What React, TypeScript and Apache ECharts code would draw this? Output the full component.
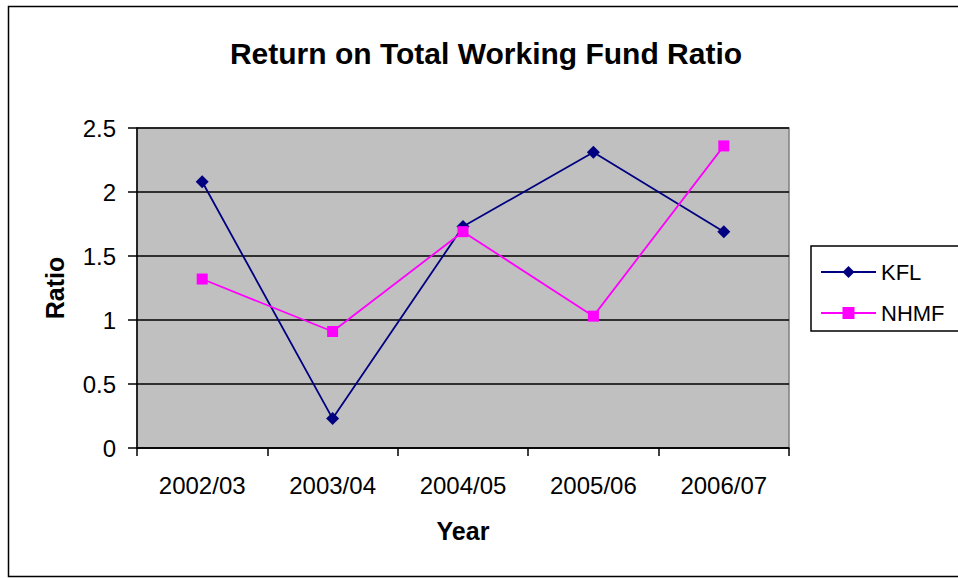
import React, { useEffect, useRef } from "react";
import * as echarts from "echarts";

const years = ["2002/03", "2003/04", "2004/05", "2005/06", "2006/07"];
const kflValues = [2.08, 0.23, 1.73, 2.31, 1.69];
const nhmfValues = [1.32, 0.91, 1.69, 1.03, 2.36];
const yTicks = { min: 0, max: 2.5, interval: 0.5 };

const FONT = "'Liberation Sans', Arial, sans-serif";

export default function App() {
  const ref = useRef<HTMLDivElement>(null);
  useEffect(() => {
    if (!ref.current) return;
    const chart = echarts.init(ref.current, null, { renderer: "svg" });
    chart.setOption({
      animation: false,
      backgroundColor: "#ffffff",
      textStyle: { fontFamily: FONT },
      title: {
        text: "Return on Total Working Fund Ratio",
        left: 481,
        textAlign: "center",
        top: 33,
        textStyle: { fontFamily: FONT, fontSize: 30, fontWeight: "bold", color: "#000" },
      },
      graphic: [
        {
          type: "rect",
          shape: { x: 8.5, y: 6.5, width: 965, height: 570 },
          style: { fill: "none", stroke: "#000", lineWidth: 1.5 },
          z: 100,
          silent: true,
        },
      ],
      legend: {
        orient: "vertical",
        left: 811,
        top: 246,
        padding: [14, 60, 6, 9],
        itemWidth: 55,
        itemHeight: 15,
        itemGap: 17,
        borderColor: "#000",
        borderWidth: 1.5,
        backgroundColor: "#fff",
        textStyle: { fontFamily: FONT, fontSize: 22, color: "#000", lineHeight: 24 },
        data: ["KFL", "NHMF"],
      },
      grid: { left: 137, top: 128, right: 169, bottom: 130, show: true, backgroundColor: "#C0C0C0", borderColor: "#808080", borderWidth: 1.5 },
      xAxis: {
        type: "category",
        data: years,
        boundaryGap: true,
        name: "Year",
        nameLocation: "middle",
        nameGap: 70,
        nameTextStyle: { fontFamily: FONT, fontSize: 25, fontWeight: "bold", color: "#000" },
        axisLine: { lineStyle: { color: "#000", width: 1.5 } },
        axisTick: { show: true, length: 8, lineStyle: { color: "#000", width: 1.5 } },
        axisLabel: { fontFamily: FONT, fontSize: 24, color: "#000", margin: 25 },
      },
      yAxis: {
        type: "value",
        min: yTicks.min,
        max: yTicks.max,
        interval: yTicks.interval,
        name: "Ratio",
        nameLocation: "middle",
        nameRotate: 90,
        nameGap: 70,
        nameTextStyle: { fontFamily: FONT, fontSize: 25, fontWeight: "bold", color: "#000" },
        axisLine: { show: true, lineStyle: { color: "#000", width: 1.5 } },
        axisTick: { show: true, length: 9, lineStyle: { color: "#000", width: 1.5 } },
        axisLabel: { fontFamily: FONT, fontSize: 24, color: "#000", margin: 21 },
        splitLine: { show: true, lineStyle: { color: "#000", width: 1.5 } },
      },
      series: [
        {
          name: "KFL",
          type: "line",
          data: kflValues,
          symbol: "diamond",
          symbolSize: 13,
          itemStyle: { color: "#000080" },
          lineStyle: { color: "#000080", width: 1.8 },
        },
        {
          name: "NHMF",
          type: "line",
          data: nhmfValues,
          symbol: "rect",
          symbolSize: 11,
          itemStyle: { color: "#FF00FF" },
          lineStyle: { color: "#FF00FF", width: 1.8 },
        },
      ],
    });
    return () => chart.dispose();
  }, []);
  return <div ref={ref} style={{ position: "absolute", left: 0, top: 0, width: 958, height: 578 }} />;
}
